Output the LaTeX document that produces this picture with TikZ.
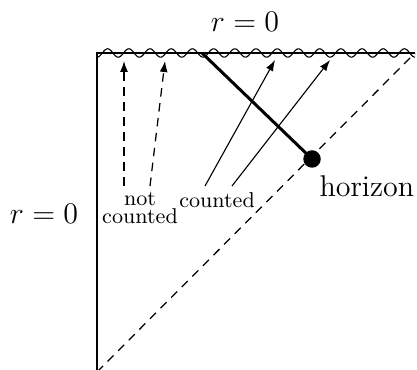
\documentclass[tikz,border=0pt]{standalone}
\usetikzlibrary{arrows.meta}
\begin{document}
\begin{tikzpicture}[x=0.4pt,y=-0.4pt,
  thinline/.style={line width=0.45pt},
  dashline/.style={line width=0.5pt,dash pattern=on 3.4pt off 2.6pt},
  arr/.style={-{Latex[length=4.4pt,width=3.2pt]}},
  small/.style={font=\fontsize{8.6}{9}\selectfont, inner sep=0pt},
  big/.style={font=\fontsize{12.3}{14}\selectfont, inner sep=0pt}]
\useasboundingbox (0,0) rectangle (417,370);
% boundary
\coordinate (tl) at (97,53);
\coordinate (tr) at (415,53);
\coordinate (bl) at (97,372);
\draw[line width=0.55pt] (bl) -- (tl) -- (tr);
\draw[line width=0.45pt] plot[domain=97:415,samples=300] (\x,{53+4.2*cos(16.98*(\x-97))});
% dashed diagonal
\draw[dashline] (bl) -- (tr);
% thick line to horizon
\coordinate (hs) at (202,53);
\node[circle,fill=black,inner sep=0pt,minimum size=7pt] (dot) at (312,159) {};
\draw[line width=1.2pt] (hs) -- (dot.center);
\node[big,anchor=west,font=\fontsize{12}{13}\selectfont] (hor) at (319,186) {horizon};
% labels
\node[big] (rtop) at (245,22) {$r=0$};
\node[big] (rleft) at (44,214) {$r=0$};
\node[small] (not) at (140,199) {not};
\node[small] (nc) at (140,216) {counted};
\node[small] (cc) at (217,200) {counted};
% arrows
\coordinate (a1s) at (124,186); \coordinate (a1e) at (124,61);
\coordinate (a2s) at (150,186); \coordinate (a2e) at (165,61);
\coordinate (a3s) at (205,186); \coordinate (a3e) at (275,60);
\coordinate (a4s) at (232,186); \coordinate (a4e) at (330,60);
\draw[dashline,arr] (a1s) -- (a1e);
\draw[dashline,arr] (a2s) -- (a2e);
\draw[thinline,arr] (a3s) -- (a3e);
\draw[thinline,arr] (a4s) -- (a4e);
\end{tikzpicture}
\end{document}
